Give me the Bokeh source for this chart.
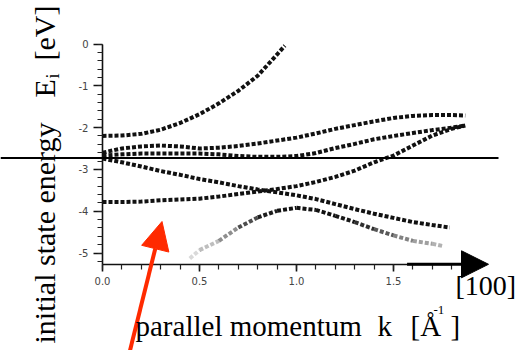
from math import pi

from bokeh.embed import file_html
from bokeh.models import Arrow, FixedTicker, Label, NormalHead, Range1d
from bokeh.plotting import figure
from bokeh.resources import INLINE

# Band dispersions: parallel momentum k (1/Å) and initial state energy E_i (eV)
k_b1 = [0.0, 0.1, 0.2, 0.3, 0.4, 0.5, 0.6, 0.7, 0.8, 0.9, 0.94]
e_b1 = [-2.20, -2.19, -2.15, -2.05, -1.89, -1.68, -1.42, -1.12, -0.76, -0.25, -0.04]

k_b2 = [0.0, 0.1, 0.2, 0.3, 0.4, 0.5, 0.6, 0.7, 0.8, 0.9,
        1.0, 1.1, 1.2, 1.3, 1.4, 1.5, 1.6, 1.7, 1.8, 1.87]
e_b2 = [-2.60, -2.50, -2.45, -2.43, -2.45, -2.50, -2.48, -2.44, -2.38, -2.31,
        -2.24, -2.14, -2.03, -1.94, -1.85, -1.77, -1.72, -1.70, -1.70, -1.71]

k_b3 = [0.0, 0.1, 0.2, 0.3, 0.4, 0.5, 0.6, 0.7, 0.8, 0.9,
        1.0, 1.1, 1.2, 1.3, 1.4, 1.5, 1.6, 1.7, 1.8, 1.87]
e_b3 = [-2.67, -2.64, -2.62, -2.62, -2.62, -2.62, -2.64, -2.68, -2.70, -2.70,
        -2.68, -2.61, -2.49, -2.39, -2.28, -2.20, -2.13, -2.06, -2.00, -1.95]

k_b4 = [0.0, 0.1, 0.2, 0.3, 0.4, 0.5, 0.6, 0.7, 0.8, 0.9,
        1.0, 1.1, 1.2, 1.3, 1.4, 1.5, 1.6, 1.7, 1.79]
e_b4 = [-2.74, -2.83, -2.93, -3.04, -3.13, -3.23, -3.31, -3.40, -3.48, -3.55,
        -3.62, -3.71, -3.83, -3.95, -4.06, -4.16, -4.26, -4.33, -4.39]

k_b5 = [0.0, 0.1, 0.2, 0.3, 0.4, 0.5, 0.6, 0.7, 0.8, 0.9,
        1.0, 1.1, 1.2, 1.3, 1.4, 1.5, 1.6, 1.7, 1.8, 1.87]
e_b5 = [-3.78, -3.78, -3.77, -3.74, -3.72, -3.70, -3.65, -3.59, -3.53, -3.47,
        -3.40, -3.30, -3.18, -3.03, -2.83, -2.67, -2.43, -2.19, -2.03, -1.95]

# lowest band, with its relative spectral weight along k
k_b6 = [0.45, 0.5, 0.6, 0.7, 0.8, 0.9, 1.0, 1.1, 1.2, 1.3, 1.4, 1.5, 1.6, 1.7, 1.76]
e_b6 = [-5.13, -4.93, -4.71, -4.39, -4.15, -3.99, -3.92, -3.97, -4.11, -4.26,
        -4.43, -4.58, -4.71, -4.78, -4.84]
w_b6 = [0.12, 0.2, 0.35, 0.6, 0.9, 1.0, 1.0, 1.0, 1.0, 0.95, 0.8, 0.6, 0.45, 0.35, 0.3]

# reference energy marked across the whole figure (eV)
e_ref = -2.727

x_major = [0.0, 0.5, 1.0, 1.5]
x_minor = [i / 10 for i in range(19)]
y_major = [0, -1, -2, -3, -4, -5]
y_minor = [-i / 5 for i in range(27)]

W, H = 518, 350
X0, Y0 = 102.0, 43.5          # canvas pixel of k = 0, E = 0
SX, SY = 194.0, 41.8          # pixels per 1/Å and per eV
K_MAX, E_MIN = 1.8, -5.27     # extent of the drawn axes


def px(x, y):
    """canvas pixel -> data coordinates"""
    return (x - X0) / SX, (Y0 - y) / SY


# the frame fills the whole canvas; axes sit at k = 0 and E = E_MIN
p = figure(width=W, height=H, output_backend="svg", toolbar_location=None,
           x_range=Range1d(px(0, 0)[0], px(W, 0)[0]),
           y_range=Range1d(px(0, H)[1], px(0, 0)[1]),
           min_border=0)
p.outline_line_color = None
p.grid.visible = False

for ax in (p.xaxis[0], p.yaxis[0]):
    ax.axis_line_width = 1.6
    ax.axis_line_color = "#111111"
    ax.major_tick_line_width = 1.6
    ax.minor_tick_line_width = 1.2
    ax.major_tick_line_color = "#111111"
    ax.minor_tick_line_color = "#222222"
    ax.major_tick_in = 0
    ax.minor_tick_in = 0
    ax.major_label_text_font = "DejaVu Sans"
    ax.major_label_text_font_size = "10px"
    ax.major_label_text_color = "#444444"

p.xaxis.fixed_location = E_MIN
p.xaxis.bounds = (0, K_MAX)
p.xaxis.ticker = FixedTicker(ticks=x_major, minor_ticks=x_minor)
p.xaxis.major_label_overrides = {t: f"{t:.1f}" for t in x_major}
p.xaxis.major_tick_out = 7
p.xaxis.minor_tick_out = 5
p.xaxis.major_label_standoff = 6

p.yaxis.fixed_location = 0
p.yaxis.bounds = (E_MIN, 0)
p.yaxis.ticker = FixedTicker(ticks=y_major, minor_ticks=y_minor)
p.yaxis.major_label_overrides = {t: f"{t}" for t in y_major}
p.yaxis.major_tick_out = 9
p.yaxis.minor_tick_out = 5
p.yaxis.major_label_standoff = 5

# bands
for ks, es in [(k_b1, e_b1), (k_b2, e_b2), (k_b3, e_b3), (k_b4, e_b4), (k_b5, e_b5)]:
    p.line(ks, es, line_color="#111111", line_width=4, line_dash="4 2")

p.segment(x0=k_b6[:-1], y0=e_b6[:-1], x1=k_b6[1:], y1=e_b6[1:],
          line_color="#111111", line_width=4, line_dash="4 2",
          line_alpha=[(a + b) / 2 for a, b in zip(w_b6[:-1], w_b6[1:])])

# reference energy line over the full width
p.add_layout(Arrow(end=None, x_start=px(0, 0)[0], x_end=px(498, 0)[0],
                   y_start=e_ref, y_end=e_ref, line_color="black", line_width=2))

# [100] direction arrow on the momentum axis
p.add_layout(Arrow(end=NormalHead(size=27, fill_color="black", line_color="black"),
                   x_start=1.57, x_end=px(488, 0)[0], y_start=E_MIN, y_end=E_MIN,
                   line_color="black", line_width=3))

# red pointer arrow
ax0, ay0 = px(128, 356)
ax1, ay1 = px(161.5, 221)
p.add_layout(Arrow(end=NormalHead(size=28, fill_color="#ff2a00", line_color="#ff2a00"),
                   x_start=ax0, y_start=ay0, x_end=ax1, y_end=ay1,
                   line_color="#ff2a00", line_width=4))

SERIF = "Liberation Serif"


def text(x, y, s, size, angle=0.0):
    """place text by its baseline start (canvas pixels)"""
    d = 0.22 * size   # label anchor sits at the descender line
    if angle:
        x -= d
    else:
        y -= d
    kx, ky = px(x, y)
    p.add_layout(Label(x=kx, y=ky, text=s, angle=angle, text_font=SERIF,
                       text_font_size=f"{size}px", text_color="black",
                       text_baseline="alphabetic", text_align="left"))


# energy axis title (rotated)
text(51, 343, "initial state energy", 30, pi / 2)
text(51, 97, "E", 30, pi / 2)
text(56, 78, "i", 18, pi / 2)
text(51, 60, "[eV]", 30, pi / 2)

# momentum axis title
text(135, 332, "parallel momentum", 29)
text(377, 332, "k", 29)
text(410, 332, "[Å", 29)
text(433, 312, "-1", 13)
text(450, 332, "]", 29)

text(455, 291, "[100]", 28)

open("out.html", "w").write(file_html(p, INLINE))
